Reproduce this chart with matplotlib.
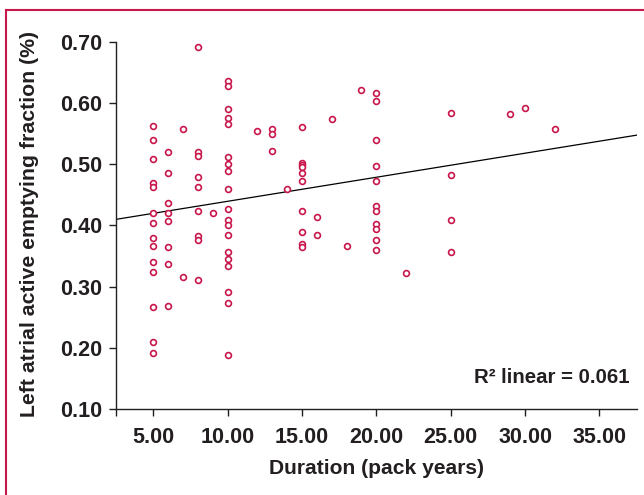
import numpy as np
import matplotlib.pyplot as plt
from matplotlib.lines import Line2D

plt.rcParams['font.family'] = ['Liberation Sans', 'DejaVu Sans']
plt.rcParams['font.weight'] = 'bold'

# duration (pack years) for each patient, grouped by column
duration = ([5] * 14 + [6] * 8 + [7] * 2 + [8] * 9 + [9] + [10] * 19 + [12] + [13] * 3
            + [14] + [15] * 10 + [16] * 2 + [17] + [18] + [19] + [20] * 11 + [22]
            + [25] * 4 + [29] + [30] + [32])

# left atrial active emptying fraction, same order
laaef = [
    0.562, 0.539, 0.508, 0.470, 0.463, 0.421, 0.404, 0.379, 0.367, 0.340, 0.324, 0.267, 0.209, 0.192,  # 5
    0.520, 0.485, 0.437, 0.421, 0.407, 0.365, 0.337, 0.268,  # 6
    0.557, 0.316,  # 7
    0.691, 0.520, 0.513, 0.479, 0.462, 0.424, 0.382, 0.376, 0.311,  # 8
    0.421,  # 9
    0.636, 0.628, 0.590, 0.575, 0.565, 0.511, 0.500, 0.489, 0.460, 0.427,
    0.408, 0.400, 0.384, 0.356, 0.345, 0.334, 0.291, 0.274, 0.189,  # 10
    0.554,  # 12
    0.557, 0.550, 0.522,  # 13
    0.459,  # 14
    0.560, 0.502, 0.499, 0.496, 0.485, 0.473, 0.423, 0.389, 0.370, 0.365,  # 15
    0.413, 0.385,  # 16
    0.573,  # 17
    0.366,  # 18
    0.621,  # 19
    0.617, 0.603, 0.539, 0.497, 0.473, 0.431, 0.424, 0.402, 0.394, 0.376, 0.360,  # 20
    0.322,  # 22
    0.584, 0.483, 0.408, 0.357,  # 25
    0.582,  # 29
    0.591,  # 30
    0.557,  # 32
]

# fitted line as printed on the chart
fit_intercept = 0.400
fit_slope = 0.00393
r2_text = 'R\u00b2 linear = 0.061'

x_ticks = [5, 10, 15, 20, 25, 30, 35]
y_ticks = [0.10, 0.20, 0.30, 0.40, 0.50, 0.60, 0.70]

red = '#C8174B'
ink = '#231F20'

fig = plt.figure(figsize=(6.44, 4.95), dpi=100)
ax = fig.add_axes([0.1801, 0.1737, 0.8085, 0.7420])

ax.plot(duration, laaef, 'o', ls='none', ms=4.2, mfc='white', mec=red, mew=1.2, zorder=3)

xlim = (2.5, 37.5)
xs = np.array(xlim)
ax.plot(xs, fit_intercept + fit_slope * xs, color='black', lw=0.9, zorder=2)

ax.set_xlim(*xlim)
ax.set_ylim(0.10, 0.70)

ax.set_xticks([xlim[0]] + x_ticks)
ax.set_xticklabels([''] + ['%.2f' % t for t in x_ticks])
ax.set_yticks(y_ticks)
ax.set_yticklabels(['%.2f' % t for t in y_ticks])

for s in ['top', 'right']:
    ax.spines[s].set_visible(False)
for s in ['left', 'bottom']:
    ax.spines[s].set_color(ink)
    ax.spines[s].set_linewidth(1.0)

ax.tick_params(axis='both', direction='out', length=5, width=1.0, color=ink,
               labelsize=15.5, labelcolor=ink)
ax.tick_params(axis='x', pad=8)
ax.tick_params(axis='y', pad=5)

ax.set_xlabel('Duration (pack years)', fontsize=15.1, fontweight='bold', color=ink)
ax.xaxis.set_label_coords(0.5, -0.136)
ax.set_ylabel('Left atrial active emptying fraction (%)', fontsize=15.3,
              fontweight='bold', color=ink)
ax.yaxis.set_label_coords(-0.148, 0.505)

ax.text(37.03, 0.142, r2_text, ha='right', va='baseline', fontsize=14.7,
        fontweight='bold', color=ink)

# red frame around the figure (top and left edges visible)
fig.add_artist(Line2D([6 / 644, 6 / 644], [0, 1 - 10 / 495], transform=fig.transFigure,
                      color=red, lw=1.5))
fig.add_artist(Line2D([6 / 644, 1], [1 - 10 / 495, 1 - 10 / 495], transform=fig.transFigure,
                      color=red, lw=1.5))

fig.savefig('out.png', dpi=100)
